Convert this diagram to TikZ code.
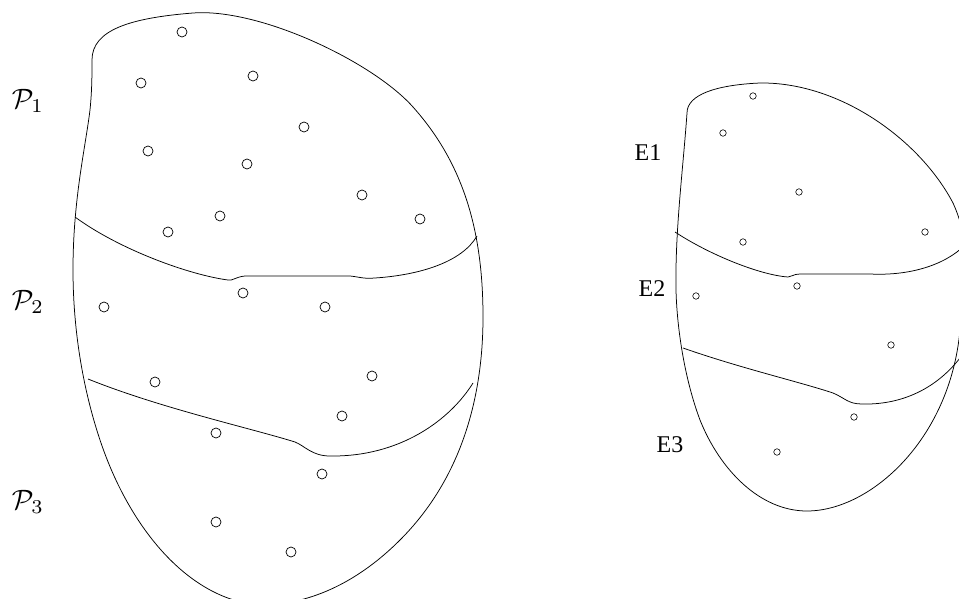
\documentclass[tikz,border=0pt]{standalone}
\usepackage{fontspec}
\newfontfamily\timesf{Liberation Serif}
\begin{document}
\begin{tikzpicture}[x=1pt,y=-1pt,line width=0.75pt,
  bigdot/.style={circle,draw,inner sep=0pt,minimum size=10pt,line width=0.7pt},
  smalldot/.style={circle,draw,inner sep=0pt,minimum size=6.5pt,line width=0.6pt},
  plabel/.style={inner sep=0pt,scale=2.8},
  elabel/.style={inner sep=0pt,font=\timesf,scale=2.4}]
\useasboundingbox (0,0) rectangle (959,599);
\clip (0,0) rectangle (959,599);
% left outline
\draw (92,60) .. controls (92,30) and (130,18) .. (193,13)
  .. controls (260,8) and (373,62) .. (413,107)
  .. controls (463,163) and (483,230) .. (483,317)
  .. controls (483,400) and (460,480) .. (400,540)
  .. controls (350,590) and (300,605) .. (260,605)
  .. controls (190,600) and (130,530) .. (100,440)
  .. controls (80,380) and (73,320) .. (73,270)
  .. controls (73,200) and (85,150) .. (90,110)
  .. controls (92,90) and (92,75) .. (92,60);
% left dividers
\draw (75,217) .. controls (120,250) and (190,275) .. (228,280)
  .. controls (233,281) and (235,277) .. (245,276) -- (350,276)
  .. controls (360,277) and (363,279) .. (375,278)
  .. controls (420,275) and (462,262) .. (477,236);
\draw (88,379) .. controls (160,408) and (250,428) .. (295,442)
  .. controls (305,446) and (312,456) .. (330,456)
  .. controls (400,457) and (450,420) .. (473,383);
% right outline
\draw (687,113) .. controls (687,95) and (715,85) .. (760,83)
  .. controls (840,82) and (920,140) .. (953,203)
  .. controls (970,240) and (972,290) .. (960,330)
  .. controls (950,440) and (870,511) .. (807,511)
  .. controls (760,511) and (720,470) .. (700,420)
  .. controls (685,380) and (677,330) .. (676,290)
  .. controls (675,230) and (683,170) .. (687,113);
% right dividers
\draw (675,232) .. controls (710,255) and (760,275) .. (788,277)
  .. controls (792,277) and (793,274) .. (800,274) -- (870,274)
  .. controls (910,276) and (945,265) .. (965,245);
\draw (683,348) .. controls (740,368) and (800,382) .. (833,393)
  .. controls (845,398) and (848,404) .. (862,404)
  .. controls (900,405) and (935,390) .. (960,358);
% left points
\foreach \x/\y [count=\i] in {182/32,141/83,253/76,304/127,148/151,247/164,362/195,420/219,220/216,168/232,243/293,104/307,325/307,372/376,155/382,342/416,216/433,322/474,216/522,291/552}
  \node[bigdot] (l\i) at (\x,\y) {};
% right points
\foreach \x/\y [count=\i] in {753/96,723/133,799/192,925/232,743/242,797/286,696/296,891/345,854/417,777/452}
  \node[smalldot] (r\i) at (\x,\y) {};
% labels
\node[plabel] (p1) at (28,101) {$\mathcal{P}_1$};
\node[plabel] (p2) at (28,302) {$\mathcal{P}_2$};
\node[plabel] (p3) at (28,502) {$\mathcal{P}_3$};
\node[elabel] (e1) at (648,153) {E1};
\node[elabel] (e2) at (652,289) {E2};
\node[elabel] (e3) at (670,445) {E3};
\end{tikzpicture}
\end{document}
